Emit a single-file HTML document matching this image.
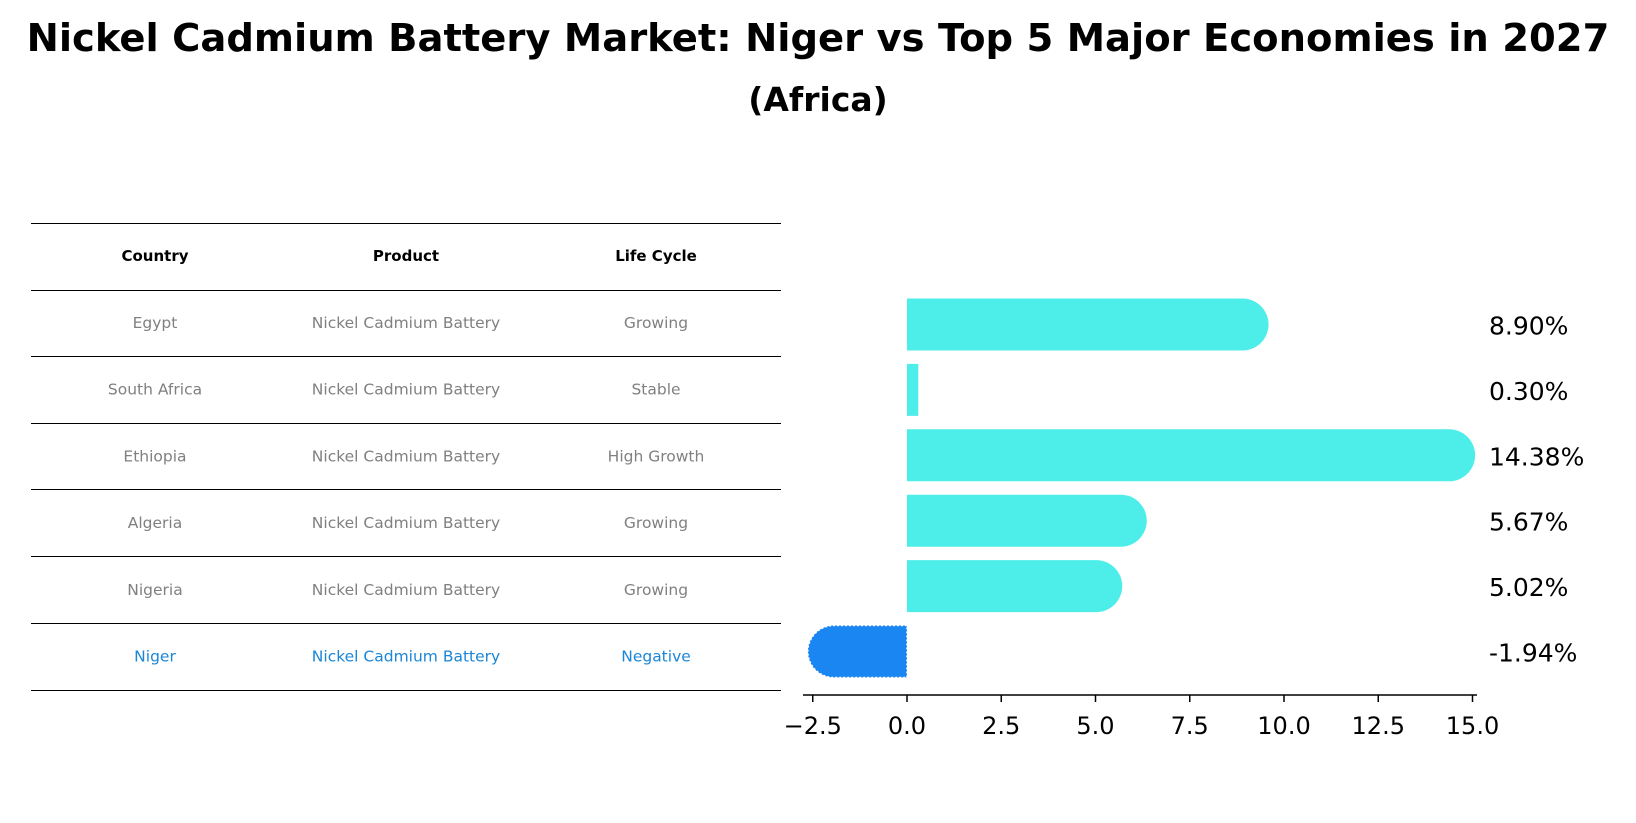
<!DOCTYPE html>
<html><head><meta charset="utf-8"><style>
body{margin:0;background:#fff;font-family:"DejaVu Sans","Liberation Sans",sans-serif}
#root{position:relative;width:1636px;height:823px;overflow:hidden}
</style></head><body><div id="root">
<svg id="svg" width="1636" height="823" style="position:absolute;left:0;top:0">
<text x="818" y="51" text-anchor="middle" font-size="38.5" font-weight="bold" font-family="DejaVu Sans, sans-serif">Nickel Cadmium Battery Market: Niger vs Top 5 Major Economies in 2027</text>
<text x="818" y="111" text-anchor="middle" font-size="33" font-weight="bold" font-family="DejaVu Sans, sans-serif">(Africa)</text>
</svg>
</div>
<script>
const countries=["Egypt","South Africa","Ethiopia","Algeria","Nigeria","Niger"];
const products=["Nickel Cadmium Battery","Nickel Cadmium Battery","Nickel Cadmium Battery","Nickel Cadmium Battery","Nickel Cadmium Battery","Nickel Cadmium Battery"];
const lifeCycles=["Growing","Stable","High Growth","Growing","Growing","Negative"];
const values=[8.90,0.30,14.38,5.67,5.02,-1.94];
const tickLabels=[-2.5,0,2.5,5,7.5,10,12.5,15];
const svg=document.getElementById('svg');const NS='http://www.w3.org/2000/svg';
function mk(t,a,p){const e=document.createElementNS(NS,t);for(const k in a)e.setAttribute(k,a[k]);(p||svg).appendChild(e);return e;}
const x=v=>907+v*37.7;
const rowY=i=>324.5+i*65.4;
const bh=52;
// table
const lineYs=[223,290,356,423,489,556,623,690];
lineYs.forEach(y=>{const l=mk('line',{x1:31,x2:781,y1:y+0.5,y2:y+0.5,stroke:'#000','stroke-width':1.2,'shape-rendering':'crispEdges'});

});
const colX=[155,406,656];
["Country","Product","Life Cycle"].forEach((h,j)=>{const t=mk('text',{x:colX[j],y:261,'text-anchor':'middle','font-size':15,'font-weight':'bold','font-family':'DejaVu Sans, sans-serif'});t.textContent=h;

});
countries.forEach((c,i)=>{const col=i==5?'#1a86d6':'#808080';[c,products[i],lifeCycles[i]].forEach((s,j)=>{const t=mk('text',{x:colX[j],y:328+i*66.7,'text-anchor':'middle','font-size':15.5,fill:col,'font-family':'DejaVu Sans, sans-serif'});t.textContent=s;

});});
// bars
values.forEach((v,i)=>{const cy=rowY(i),r=bh/2;const neg=v<0;const col=neg?'#1a86f2':'#4deeea';
const x0=x(0),x1=x(v);let d;
if(Math.abs(v)<1){d=`M${x0},${cy-r}H${x1}V${cy+r}H${x0}Z`;}
else if(!neg){d=`M${x0},${cy-r}H${x1}A${r},${r} 0 0 1 ${x1},${cy+r}H${x0}Z`;}
else{d=`M${x0},${cy-r}H${x1}A${r},${r} 0 0 0 ${x1},${cy+r}H${x0}Z`;}
const p=mk('path',{d,fill:col,stroke:neg?'#fff':'none','stroke-dasharray':neg?'2 2':'','stroke-width':neg?1.5:0});


const t=mk('text',{x:1489,y:cy+10,'font-size':25,'font-family':'DejaVu Sans, sans-serif'});t.textContent=v.toFixed(2)+'%';

});
// axis
const ax=mk('line',{x1:803,x2:1477,y1:695,y2:695,stroke:'#000','stroke-width':1.5});


tickLabels.forEach(v=>{const tk=mk('line',{x1:x(v),x2:x(v),y1:695,y2:702,stroke:'#000','stroke-width':1.5});


const t=mk('text',{x:x(v),y:734,'text-anchor':'middle','font-size':24,'font-family':'DejaVu Sans, sans-serif'});t.textContent=(v<0?'\u2212':'')+Math.abs(v).toFixed(1);

});
</script></body></html>
